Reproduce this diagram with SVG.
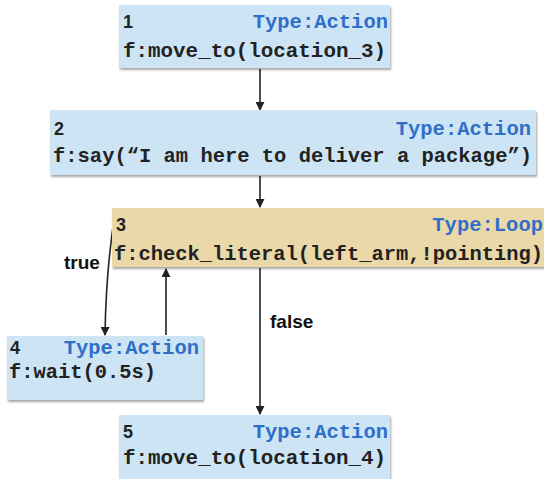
<svg xmlns="http://www.w3.org/2000/svg" width="544" height="479" viewBox="0 0 544 479">
<defs>
<marker id="ah" viewBox="0 0 10 10" refX="9" refY="5" markerWidth="9" markerHeight="9" markerUnits="userSpaceOnUse" orient="auto">
<path d="M0,0 L10,5 L0,10 z" fill="#222"/>
</marker>
<filter id="sh" x="-5%" y="-10%" width="110%" height="130%">
<feDropShadow dx="1" dy="2" stdDeviation="1.2" flood-color="#000" flood-opacity="0.35"/>
</filter>
</defs>
<style>
.act{fill:#cde4f4;filter:url(#sh)}
.loop{fill:#ebd8a8;filter:url(#sh)}
.num{font-family:"Liberation Sans",Arial,sans-serif;font-weight:bold;font-size:18px;fill:#222}
.typ{font-family:"Liberation Mono","Courier New",monospace;font-weight:bold;font-size:20.5px;fill:#2f6fc8;text-anchor:end}
.fn{font-family:"Liberation Mono","Courier New",monospace;font-weight:bold;font-size:20.5px;fill:#222}
.lbl{font-family:"Liberation Sans",Arial,sans-serif;font-weight:bold;font-size:19px;fill:#111}
.con{stroke:#222;stroke-width:1.6;fill:none;marker-end:url(#ah)}
</style>
<rect width="544" height="479" fill="#fff"/>
<g id="connectors">
<line class="con" x1="260" y1="69" x2="260" y2="110"/>
<line class="con" x1="260" y1="176" x2="260" y2="207"/>
<line class="con" x1="260" y1="268" x2="260" y2="414"/>
<path class="con" d="M115,213 Q106,270 105,335"/>
<line class="con" x1="166" y1="335" x2="166" y2="269"/>
<text class="lbl" x="64" y="269">true</text>
<text class="lbl" x="270" y="328">false</text>
</g>
<g id="node1">
<rect class="act" x="119" y="5" width="271" height="63"/>
<text class="num" x="123" y="28">1</text>
<text class="typ" x="388" y="28">Type:Action</text>
<text class="fn" x="123" y="57" textLength="263" lengthAdjust="spacingAndGlyphs">f:move_to(location_3)</text>
</g>
<g id="node2">
<rect class="act" x="50" y="110" width="486" height="65"/>
<text class="num" x="54" y="135">2</text>
<text class="typ" x="531" y="135">Type:Action</text>
<text class="fn" x="53" y="162" textLength="479" lengthAdjust="spacingAndGlyphs">f:say(“I am here to deliver a package”)</text>
</g>
<g id="node3">
<rect class="loop" x="112" y="208" width="434" height="59"/>
<text class="num" x="116" y="231">3</text>
<text class="typ" x="543" y="231">Type:Loop</text>
<text class="fn" x="114" y="260" textLength="429" lengthAdjust="spacingAndGlyphs">f:check_literal(left_arm,!pointing)</text>
</g>
<g id="node4">
<rect class="act" x="7" y="336" width="196" height="64"/>
<text class="num" x="10" y="354">4</text>
<text class="typ" x="199" y="354">Type:Action</text>
<text class="fn" x="9" y="378" textLength="147" lengthAdjust="spacingAndGlyphs">f:wait(0.5s)</text>
</g>
<g id="node5">
<rect class="act" x="119" y="415" width="271" height="70"/>
<text class="num" x="123" y="438">5</text>
<text class="typ" x="388" y="438">Type:Action</text>
<text class="fn" x="123" y="464" textLength="263" lengthAdjust="spacingAndGlyphs">f:move_to(location_4)</text>
</g>
</svg>
